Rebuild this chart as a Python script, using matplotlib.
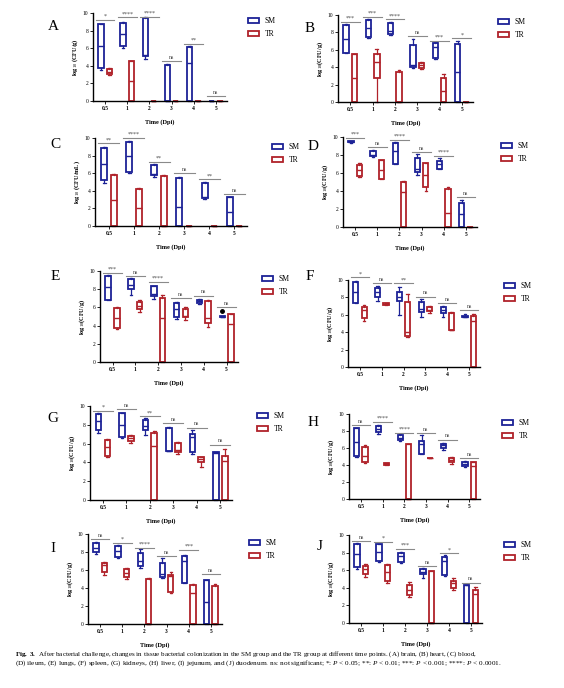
import numpy as np
import matplotlib
matplotlib.use('Agg')
import matplotlib.pyplot as plt
from matplotlib.patches import Patch

plt.rcParams['font.family'] = ['Liberation Serif', 'DejaVu Serif']
plt.rcParams['mathtext.fontset'] = 'custom'
plt.rcParams['mathtext.rm'] = 'Liberation Serif'
plt.rcParams['mathtext.it'] = 'Liberation Serif:italic'
plt.rcParams['mathtext.bf'] = 'Liberation Serif:bold'

DAYS = ['0.5', '1', '2', '3', '4', '5']
BLUE = '#1c2296'
RED = '#b0222a'
SIGC = '#8a8a8a'

# box stats per day: (min, q1, median, q3, max)
A_SM = [(3.5, 3.7, 6.3, 8.7, 8.8), (6.0, 6.2, 7.6, 8.9, 9.0), (4.8, 5.1, 5.2, 9.4, 9.5),
        (0, 0, 0, 4.1, 4.2), (0, 0, 4.3, 6.1, 6.2), (0, 0, 0, 0, 0)]
A_TR = [(3.0, 3.1, 3.3, 3.6, 3.7), (0, 0, 2.3, 4.5, 4.6), (0, 0, 0, 0, 0),
        (0, 0, 0, 0, 0), (0, 0, 0, 0, 0), (0, 0, 0, 0, 0)]
A_SIG = ['*', '****', '****', 'ns', '**', 'ns']
A_SIG_Y = [9.2, 9.5, 9.6, 4.5, 6.5, 0.6]

B_SM = [(5.6, 5.6, 7.2, 8.9, 9.0), (7.3, 7.5, 8.5, 9.4, 9.5), (7.7, 7.8, 8.2, 9.1, 9.2),
        (3.9, 4.0, 4.2, 6.5, 7.2), (4.9, 5.0, 6.3, 6.8, 6.9), (0, 0, 3.4, 6.7, 7.0)]
B_TR = [(0, 0, 2.8, 5.5, 5.5), (0, 2.8, 4.6, 5.5, 6.1), (0, 0, 0, 3.5, 3.7),
        (3.8, 3.9, 4.2, 4.5, 4.6), (0, 0, 1.3, 2.8, 3.2), (0, 0, 0, 0, 0)]
B_SIG = ['***', '***', '****', 'ns', '***', '*']
B_SIG_Y = [9.2, 9.8, 9.5, 7.6, 7.0, 7.3]

C_SM = [(4.9, 5.2, 7.1, 8.9, 9.0), (6.0, 6.1, 7.9, 9.6, 9.7), (5.6, 5.8, 5.9, 6.9, 7.0),
        (0, 0, 2.2, 5.5, 5.6), (3.1, 3.2, 3.3, 4.9, 5.0), (0, 0, 1.6, 3.3, 3.3)]
C_TR = [(0, 0, 2.9, 5.8, 5.9), (0, 0, 2.1, 4.2, 4.3), (0, 0, 0, 5.7, 5.8),
        (0, 0, 0, 0, 0), (0, 0, 0, 0, 0), (0, 0, 0, 0, 0)]
C_SIG = ['**', '****', '**', 'ns', '**', 'ns']
C_SIG_Y = [9.4, 10.0, 7.3, 6.0, 5.3, 3.6]

D_SM = [(9.3, 9.4, 9.5, 9.6, 9.6), (7.8, 7.9, 8.0, 8.5, 8.6), (7.0, 7.0, 8.4, 9.3, 9.4),
        (5.8, 6.1, 6.4, 7.7, 8.1), (6.4, 6.5, 7.0, 7.3, 7.7), (0, 0, 1.4, 2.7, 3.0)]
D_TR = [(5.6, 5.7, 6.3, 6.9, 7.1), (5.3, 5.3, 6.3, 7.4, 7.4), (0, 0, 3.9, 5.0, 5.1),
        (4.0, 4.4, 5.8, 7.1, 7.1), (0, 0, 1.6, 4.2, 4.4), (0, 0, 0, 0, 0)]
D_SIG = ['***', 'ns', '****', 'ns', '****', 'ns']
D_SIG_Y = [9.9, 8.9, 9.7, 8.3, 7.9, 3.3]

E_SM = [(6.8, 6.8, 8.2, 9.5, 9.6), (7.4, 8.0, 8.5, 9.1, 9.2), (6.9, 7.2, 7.5, 8.3, 8.4),
        (4.7, 5.0, 5.8, 6.5, 6.6), (6.4, 6.5, 6.7, 6.8, 6.9), (5.0, 5.0, 5.0, 5.1, 5.1)]
E_TR = [(3.6, 3.7, 4.8, 5.9, 6.0), (5.5, 5.8, 6.2, 6.6, 6.8), (0, 0, 4.8, 7.0, 7.4),
        (4.6, 4.9, 5.1, 5.8, 6.0), (3.9, 4.3, 4.8, 6.7, 6.8), (0, 0, 4.2, 5.3, 5.3)]
E_SIG = ['***', 'ns', '****', 'ns', 'ns', 'ns']
E_SIG_Y = [9.8, 9.4, 8.8, 7.0, 7.3, 6.0]
E_SM_OUTLIER = {5: 5.6}

F_SM = [(7.3, 7.4, 8.6, 9.8, 9.9), (7.6, 8.0, 8.6, 9.1, 9.3), (6.0, 7.6, 8.0, 8.6, 9.2),
        (5.8, 6.3, 6.7, 7.5, 7.8), (5.7, 6.2, 6.5, 6.9, 7.0), (5.7, 5.7, 5.8, 5.9, 6.1)]
F_TR = [(5.3, 5.6, 6.5, 6.9, 7.1), (7.1, 7.1, 7.2, 7.3, 7.3), (3.4, 3.6, 4.0, 7.5, 8.4),
        (6.2, 6.4, 6.6, 6.9, 7.0), (4.2, 4.2, 4.3, 6.2, 6.3), (0, 0, 5.3, 5.9, 6.1)]
F_SIG = ['*', 'ns', '**', 'ns', 'ns', 'ns']
F_SIG_Y = [10.3, 9.6, 9.6, 8.1, 7.3, 6.5]

G_SM = [(7.1, 7.5, 8.4, 9.2, 9.3), (6.6, 6.7, 8.0, 9.3, 9.3), (6.9, 7.5, 7.9, 8.5, 8.7),
        (5.2, 5.2, 5.2, 7.7, 7.8), (4.9, 5.1, 6.7, 7.0, 7.4), (0, 0, 5.0, 5.1, 5.1)]
G_TR = [(4.6, 4.7, 5.6, 6.4, 6.5), (6.1, 6.3, 6.6, 6.8, 6.9), (0, 0, 5.7, 7.1, 7.3),
        (4.9, 5.1, 5.3, 6.1, 6.2), (3.5, 4.0, 4.4, 4.6, 4.6), (0, 0, 4.1, 4.7, 5.4)]
G_SIG = ['*', 'ns', '**', 'ns', 'ns', 'ns']
G_SIG_Y = [9.5, 9.7, 8.9, 8.2, 7.7, 5.9]

H_SM = [(5.0, 5.1, 6.7, 8.3, 8.3), (7.7, 7.9, 8.2, 8.6, 8.7), (6.8, 7.0, 7.2, 7.5, 7.7),
        (5.3, 5.3, 6.5, 6.8, 7.5), (5.8, 6.0, 6.3, 6.5, 6.6), (3.8, 3.9, 4.1, 4.4, 4.5)]
H_TR = [(4.2, 4.4, 5.1, 6.1, 6.4), (4.0, 4.0, 4.1, 4.2, 4.2), (0, 0, 0, 6.5, 6.5),
        (4.8, 4.8, 4.8, 4.8, 4.8), (4.1, 4.3, 4.6, 4.8, 5.0), (0, 0, 3.9, 4.3, 4.4)]
H_SIG = ['ns', '****', '****', 'ns', 'ns', 'ns']
H_SIG_Y = [8.7, 9.1, 7.8, 7.8, 7.0, 4.8]

I_SM = [(7.8, 8.0, 8.5, 9.0, 9.1), (7.3, 7.4, 8.1, 8.7, 8.8), (6.2, 6.5, 7.0, 7.9, 8.3),
        (5.1, 5.2, 5.6, 6.8, 7.3), (4.6, 4.6, 7.0, 7.6, 7.7), (0, 0, 2.4, 4.9, 4.9)]
I_TR = [(5.4, 5.8, 6.6, 6.8, 6.9), (5.0, 5.2, 5.7, 6.1, 6.2), (0, 0, 0, 5.0, 5.1),
        (3.5, 3.6, 5.3, 5.5, 5.8), (0, 0, 3.4, 4.3, 4.4), (0, 0, 0, 4.2, 4.4)]
I_SIG = ['ns', '*', '****', 'ns', '***', 'ns']
I_SIG_Y = [9.4, 9.0, 8.5, 7.6, 8.2, 5.6]

J_SM = [(6.1, 6.4, 7.8, 9.0, 9.1), (6.9, 7.1, 8.1, 9.0, 9.0), (6.8, 6.9, 7.6, 7.9, 8.1),
        (5.1, 5.6, 5.8, 6.1, 6.2), (5.3, 5.4, 7.0, 7.5, 7.7), (0, 0, 4.3, 4.3, 4.3)]
J_TR = [(5.2, 5.6, 6.1, 6.5, 6.7), (4.5, 4.8, 5.8, 6.6, 6.7), (2.9, 3.2, 3.8, 4.3, 4.7),
        (0, 0, 0, 5.9, 5.9), (3.7, 4.0, 4.5, 4.8, 5.1), (0, 0, 3.3, 3.8, 4.1)]
J_SIG = ['ns', '*', '***', 'ns', '*', 'ns']
J_SIG_Y = [9.3, 9.2, 8.4, 6.5, 7.9, 4.6]

YLAB_G = r'log$_{10}$(CFU/g)'
YLAB_ML = r'log$_{10}$ (CFU/mL)'

CAPTION_1 = (r'$\mathbf{Fig.\ 3.}$  After bacterial challenge, changes in tissue bacterial colonization in the SM group '
             'and the TR group at different time points. (A) brain, (B) heart, (C) blood,')
CAPTION_2 = (r'(D) ileum, (E) lungs, (F) spleen, (G) kidneys, (H) liver, (I) jejunum, and (J) duodenum. '
             r'ns: not significant; *: $P$ < 0.05; **: $P$ < 0.01; ***: $P$ < 0.001; ****: $P$ < 0.0001.')

W, H = 564, 688
# pixel layout: axes (left, right, top, bottom), legend (x, y), letter (x, y)
LAYOUT = {
    'A': ((93, 227, 13, 101), (244, 13), (53, 27)),
    'B': ((338, 473, 15, 102), (494, 14), (310, 28)),
    'C': ((95, 247, 138, 226), (268, 139), (55, 144)),
    'D': ((343, 477, 137, 227), (497, 138), (313, 147)),
    'E': ((100, 238, 271, 362), (258, 271), (55, 276)),
    'F': ((348, 480, 280, 367), (500, 278), (310, 276)),
    'G': ((90, 232, 406, 500), (253, 408), (53, 419)),
    'H': ((349, 480, 414, 499), (498, 415), (313, 423)),
    'I': ((88, 222, 534, 624), (245, 535), (53, 549)),
    'J': ((349, 482, 535, 623), (500, 537), (320, 546)),
}

PANELS = [
    ('A', A_SM, A_TR, A_SIG, A_SIG_Y, r'log$_{10}$ (CFU/g)'),
    ('B', B_SM, B_TR, B_SIG, B_SIG_Y, YLAB_G),
    ('C', C_SM, C_TR, C_SIG, C_SIG_Y, YLAB_ML),
    ('D', D_SM, D_TR, D_SIG, D_SIG_Y, YLAB_G),
    ('E', E_SM, E_TR, E_SIG, E_SIG_Y, YLAB_G),
    ('F', F_SM, F_TR, F_SIG, F_SIG_Y, YLAB_G),
    ('G', G_SM, G_TR, G_SIG, G_SIG_Y, YLAB_G),
    ('H', H_SM, H_TR, H_SIG, H_SIG_Y, YLAB_G),
    ('I', I_SM, I_TR, I_SIG, I_SIG_Y, YLAB_G),
    ('J', J_SM, J_TR, J_SIG, J_SIG_Y, YLAB_G),
]


def to_stats(rows, outliers=None):
    out = []
    for i, r in enumerate(rows):
        fl = [outliers[i]] if outliers and i in outliers else []
        out.append(dict(whislo=r[0], q1=r[1], med=r[2], q3=r[3], whishi=r[4], fliers=fl))
    return out


def draw_boxes(ax, stats, positions, color):
    ax.bxp(stats, positions=positions, widths=0.24, capwidths=0.12,
           patch_artist=True, showfliers=True, manage_ticks=False,
           boxprops=dict(facecolor='white', edgecolor=color, linewidth=1.3),
           medianprops=dict(color=color, linewidth=1.0),
           whiskerprops=dict(color=color, linewidth=0.9),
           capprops=dict(color=color, linewidth=0.9),
           flierprops=dict(marker='o', markerfacecolor='black', markeredgecolor='black',
                           markersize=2.5))


fig = plt.figure(figsize=(W / 100, H / 100), dpi=100)
pos = np.arange(len(DAYS))

for name, sm, tr, sig, sig_y, ylab in PANELS:
    (l, r, t, b), (lx, ly), (tx, ty) = LAYOUT[name]
    ax = fig.add_axes([l / W, 1 - b / H, (r - l) / W, (b - t) / H])
    outl = E_SM_OUTLIER if name == 'E' else None
    draw_boxes(ax, to_stats(sm, outl), pos - 0.19, BLUE)
    draw_boxes(ax, to_stats(tr), pos + 0.19, RED)
    for i, (s, y) in enumerate(zip(sig, sig_y)):
        ax.plot([pos[i] - 0.42, pos[i] + 0.42], [y, y], color=SIGC, lw=0.8, clip_on=False)
        ax.text(pos[i], y + 0.12, s, ha='center', va='bottom', fontsize=4.3, color='#444444')
    for a in ax.get_children():
        if hasattr(a, 'set_clip_on'):
            a.set_clip_on(False)
    ax.set_xlim(-0.55, 5.5)
    ax.set_ylim(0, 10)
    ax.set_yticks([0, 2, 4, 6, 8, 10])
    ax.set_xticks(pos)
    ax.set_xticklabels(DAYS, fontweight='bold')
    ax.tick_params(labelsize=4, length=2, width=0.6, pad=1.5)
    for sp in ['top', 'right']:
        ax.spines[sp].set_visible(False)
    for sp in ['left', 'bottom']:
        ax.spines[sp].set_linewidth(1.0)
    ax.set_ylabel(ylab, fontsize=4.5, fontweight='bold', labelpad=2)
    ax.set_xlabel('Time (Dpi)', fontsize=4.5, fontweight='bold', labelpad=6)
    ax.set_facecolor('none')

    handles = [Patch(facecolor='white', edgecolor=BLUE, linewidth=1.3),
               Patch(facecolor='white', edgecolor=RED, linewidth=1.3)]
    fig.legend(handles, ['SM', 'TR'], loc='upper left', bbox_to_anchor=(lx / W, 1 - ly / H),
               frameon=False, fontsize=5.5, handlelength=1.4, handleheight=0.6,
               handletextpad=0.8, labelspacing=0.7, borderpad=0)
    fig.text(tx / W, 1 - ty / H, name, fontsize=11, ha='center', va='center')

fig.text(15 / W, 1 - 654 / H, CAPTION_1, fontsize=5.0, va='center')
fig.text(15 / W, 1 - 663 / H, CAPTION_2, fontsize=5.2, va='center')

fig.savefig('out.png', dpi=100, facecolor='white')
